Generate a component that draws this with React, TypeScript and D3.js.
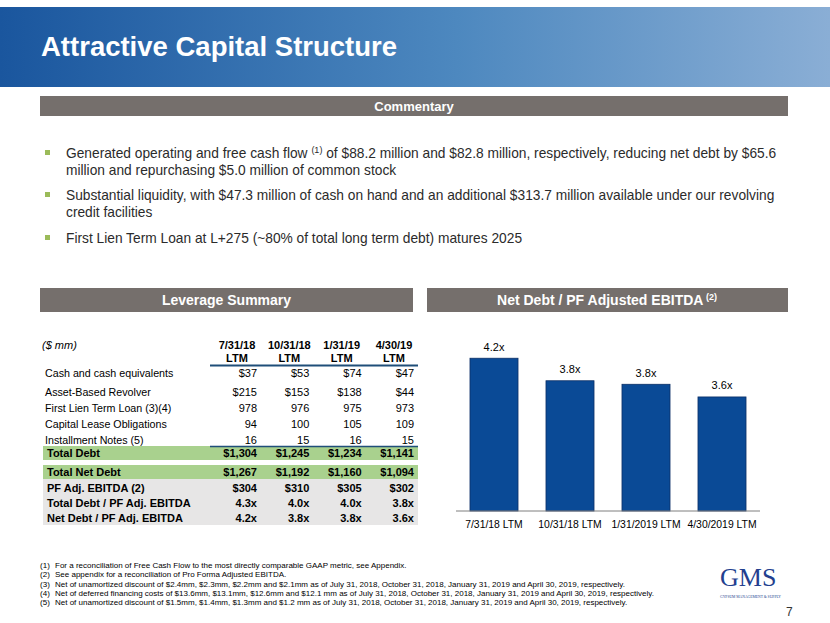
import React from "react";
import * as d3 from "d3";

// ---------- DATA ----------
const periods = ["7/31/18", "10/31/18", "1/31/19", "4/30/19"];
const rowLabels = [
  "Cash and cash equivalents",
  "Asset-Based Revolver",
  "First Lien Term Loan (3)(4)",
  "Capital Lease Obligations",
  "Installment Notes (5)",
];
const cashValues = ["$37", "$53", "$74", "$47"];
const ablValues = ["$215", "$153", "$138", "$44"];
const firstLienValues = ["978", "976", "975", "973"];
const capLeaseValues = ["94", "100", "105", "109"];
const installmentValues = ["16", "15", "16", "15"];
const totalDebtValues = ["$1,304", "$1,245", "$1,234", "$1,141"];
const totalNetDebtValues = ["$1,267", "$1,192", "$1,160", "$1,094"];
const ebitdaValues = ["$304", "$310", "$305", "$302"];
const totalDebtRatioValues = ["4.3x", "4.0x", "4.0x", "3.8x"];
const netDebtRatioValues = ["4.2x", "3.8x", "3.8x", "3.6x"];

const barCategories = ["7/31/18 LTM", "10/31/18 LTM", "1/31/2019 LTM", "4/30/2019 LTM"];
const barValues = [4.17, 3.85, 3.8, 3.62];
const barLabels = ["4.2x", "3.8x", "3.8x", "3.6x"];

const bullets = [
  [
    "Generated operating and free cash flow |(1)| of $88.2 million and $82.8 million, respectively, reducing net debt by $65.6",
    "million and repurchasing $5.0 million of common stock",
  ],
  [
    "Substantial liquidity, with $47.3 million of cash on hand and an additional $313.7 million available under our revolving",
    "credit facilities",
  ],
  ["First Lien Term Loan at L+275 (~80% of total long term debt) matures 2025"],
];

const footnotes = [
  "For a reconciliation of Free Cash Flow to the most directly comparable GAAP metric, see Appendix.",
  "See appendix for a reconciliation of Pro Forma Adjusted EBITDA.",
  "Net of unamortized discount of $2.4mm, $2.3mm, $2.2mm and $2.1mm as of July 31, 2018, October 31, 2018, January 31, 2019 and April 30, 2019, respectively.",
  "Net of deferred financing costs of $13.6mm, $13.1mm, $12.6mm and $12.1 mm as of July 31, 2018, October 31, 2018, January 31, 2019 and April 30, 2019,  respectively.",
  "Net of unamortized discount of $1.5mm, $1.4mm, $1.3mm and $1.2 mm as of July 31, 2018, October 31, 2018, January 31, 2019 and April 30, 2019, respectively.",
];

// ---------- STYLE ----------
const FONT = "'Liberation Sans', Arial, Helvetica, sans-serif";
const SERIF = "'Liberation Serif', 'Times New Roman', serif";
const BAR_HEADER = "#756f6c";
const BAR_BLUE = "#0a4a96";
const GREEN = "#a9d18e";
const GRAY = "#e7e6e6";
const LINE_BLUE = "#1f4e79";

export default function App() {
  const W = 830;
  const H = 623;

  // Table column scale
  const colX = d3.scalePoint<string>().domain(periods).range([237, 394]);
  const right = (p: string) => (colX(p) as number) + 20;

  // Bar chart scales
  const x = d3
    .scaleBand<string>()
    .domain(barCategories)
    .range([456, 760])
    .paddingInner(0.368)
    .paddingOuter(0.184);
  const y = d3.scaleLinear().domain([2, 4.5]).range([511, 335]);

  const regularRows: [string, string[], number][] = [
    [rowLabels[0], cashValues, 377],
    [rowLabels[1], ablValues, 396],
    [rowLabels[2], firstLienValues, 412],
    [rowLabels[3], capLeaseValues, 428],
    [rowLabels[4], installmentValues, 444],
  ];
  const boldRows: [string, string[], number][] = [
    ["Total Debt", totalDebtValues, 456.5],
    ["Total Net Debt", totalNetDebtValues, 476],
    ["PF Adj. EBITDA (2)", ebitdaValues, 491.5],
    ["Total Debt / PF Adj. EBITDA", totalDebtRatioValues, 507],
    ["Net Debt / PF Adj. EBITDA", netDebtRatioValues, 522],
  ];

  const bulletY = [
    [158, 175],
    [200, 217],
    [243],
  ];

  return (
    <div style={{ position: "absolute", left: 0, top: 0, width: W, height: H }}>
      <svg width={W} height={H} style={{ display: "block" }} fontFamily={FONT}>
        <defs>
          <linearGradient id="hdr" x1="0" x2="1" y1="0" y2="0">
            <stop offset="0%" stopColor="#1a569e" />
            <stop offset="55%" stopColor="#4d88bf" />
            <stop offset="100%" stopColor="#8aaed5" />
          </linearGradient>
        </defs>
        <rect x={0} y={0} width={W} height={H} fill="#fff" />

        {/* Header band */}
        <rect x={0} y={7} width={W} height={80} fill="url(#hdr)" />
        <text x={41} y={56} fill="#fff" fontSize={27.5} fontWeight="bold">
          Attractive Capital Structure
        </text>

        {/* Commentary bar */}
        <rect x={40} y={96} width={748} height={20} fill={BAR_HEADER} />
        <text x={414} y={110.5} fill="#fff" fontSize={13} fontWeight="bold" textAnchor="middle">
          Commentary
        </text>

        {/* Bullets */}
        {bullets.map((lines, i) => (
          <g key={i}>
            <rect x={45} y={bulletY[i][0] - 8} width={5} height={5} fill="#9bbb59" />
            {lines.map((ln, j) => {
              const parts = ln.split("|");
              return (
                <text key={j} x={66} y={bulletY[i][j]} fontSize={13.75} fill="#2b2b2b">
                  {parts.length === 1 ? (
                    ln
                  ) : (
                    <>
                      {parts[0]}
                      <tspan fontSize={9} dy={-5}>
                        {parts[1]}
                      </tspan>
                      <tspan dy={5}>{parts[2]}</tspan>
                    </>
                  )}
                </text>
              );
            })}
          </g>
        ))}

        {/* Leverage Summary bar */}
        <rect x={40} y={288} width={373} height={24} fill={BAR_HEADER} />
        <text x={226.5} y={305} fill="#fff" fontSize={14} fontWeight="bold" textAnchor="middle">
          Leverage Summary
        </text>

        {/* Net Debt bar */}
        <rect x={427} y={288} width={361} height={24} fill={BAR_HEADER} />
        <text x={607} y={305} fill="#fff" fontSize={14} fontWeight="bold" textAnchor="middle">
          Net Debt / PF Adjusted EBITDA
          <tspan fontSize={9} dy={-5}>
            {" (2)"}
          </tspan>
        </text>

        {/* Table */}
        <text x={42} y={349} fontSize={11} fontStyle="italic" fill="#000">
          ($ mm)
        </text>
        {periods.map((p) => (
          <g key={p}>
            <text x={colX(p)} y={349} fontSize={11} fontWeight="bold" textAnchor="middle">
              {p}
            </text>
            <text x={colX(p)} y={362} fontSize={11} fontWeight="bold" textAnchor="middle">
              LTM
            </text>
          </g>
        ))}
        <line x1={210} x2={418} y1={365.5} y2={365.5} stroke={LINE_BLUE} strokeWidth={2} />

        {regularRows.map(([label, vals, yy]) => (
          <g key={label}>
            <text x={45} y={yy} fontSize={10.7}>
              {label}
            </text>
            {periods.map((p, i) => (
              <text key={p} x={right(p)} y={yy} fontSize={11} textAnchor="end">
                {vals[i]}
              </text>
            ))}
          </g>
        ))}

        <rect x={43} y={446} width={375} height={14} fill={GREEN} />
        <line x1={210} x2={418} y1={446.5} y2={446.5} stroke={LINE_BLUE} strokeWidth={1.5} />
        <rect x={43} y={465} width={375} height={14} fill={GREEN} />
        <rect x={43} y={479} width={375} height={46} fill={GRAY} />

        {boldRows.map(([label, vals, yy]) => (
          <g key={label}>
            <text x={47} y={yy} fontSize={11} fontWeight="bold">
              {label}
            </text>
            {periods.map((p, i) => (
              <text key={p} x={right(p)} y={yy} fontSize={11} fontWeight="bold" textAnchor="end">
                {vals[i]}
              </text>
            ))}
          </g>
        ))}

        {/* Bar chart */}
        {barCategories.map((c, i) => (
          <g key={c}>
            <rect
              x={x(c)}
              y={y(barValues[i])}
              width={x.bandwidth()}
              height={y(2) - y(barValues[i])}
              fill={BAR_BLUE}
              stroke="#0b2f66"
              strokeWidth={0.8}
            />
            <text
              x={(x(c) as number) + x.bandwidth() / 2}
              y={y(barValues[i]) - 7.5}
              fontSize={11}
              textAnchor="middle"
              fill="#000"
            >
              {barLabels[i]}
            </text>
            <text
              x={(x(c) as number) + x.bandwidth() / 2}
              y={528}
              fontSize={10.4}
              textAnchor="middle"
              fill="#000"
            >
              {c}
            </text>
          </g>
        ))}
        <line x1={456} x2={760} y1={y(2)} y2={y(2)} stroke="#7f7f7f" strokeWidth={1} />

        {/* Footnotes */}
        {footnotes.map((f, i) => (
          <g key={i}>
            <text x={40} y={568 + i * 9.3} fontSize={8} fill="#000">
              ({i + 1})
            </text>
            <text x={55} y={568 + i * 9.3} fontSize={8} fill="#000">
              {f}
            </text>
          </g>
        ))}

        {/* Logo */}
        <text x={720} y={586} fontFamily={SERIF} fontSize={26} fill="#233f8f">
          GMS
        </text>
        <text
          x={720}
          y={597.5}
          fontFamily={SERIF}
          fontSize={4.5}
          fill="#233f8f"
          textLength={61}
          lengthAdjust="spacingAndGlyphs"
        >
          GYPSUM MANAGEMENT &amp; SUPPLY
        </text>
        <text x={786} y={616} fontSize={12} fill="#333">
          7
        </text>
      </svg>
    </div>
  );
}
